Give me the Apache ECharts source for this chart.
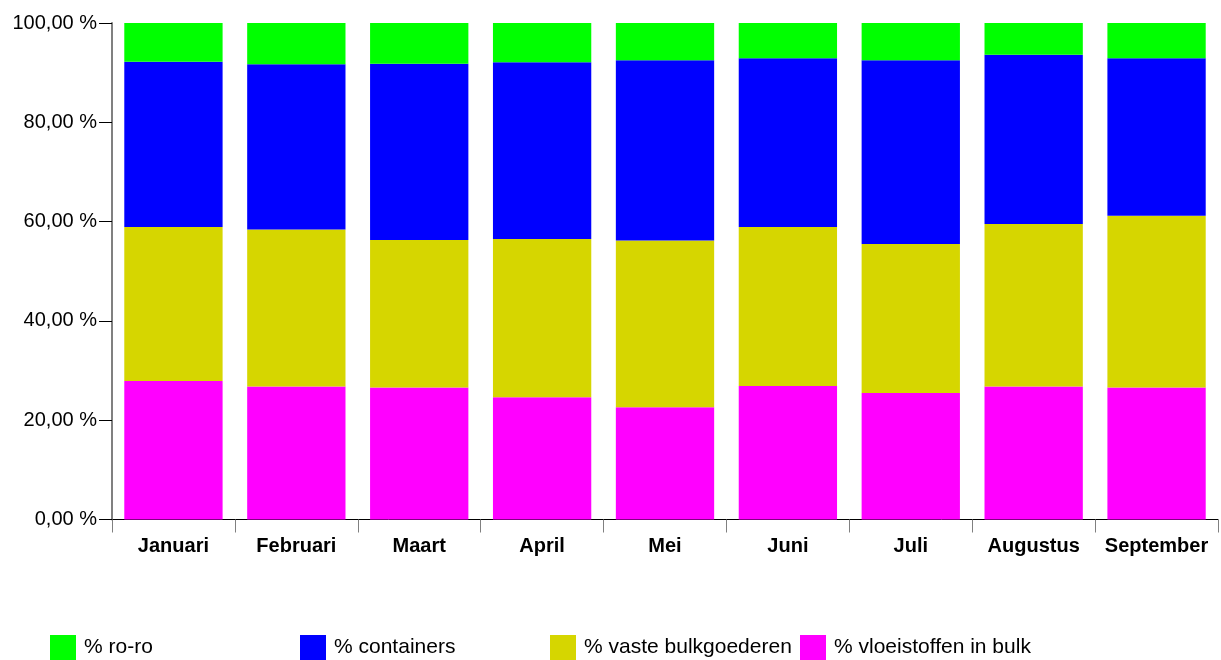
<!DOCTYPE html>
<html>
<head>
<meta charset="utf-8">
<script src="https://cdn.jsdelivr.net/npm/echarts@6/dist/echarts.min.js"></script>
<style>
html,body{margin:0;padding:0;background:#fff;}
#chart{width:1221px;height:660px;}
</style>
</head>
<body>
<div id="chart"></div>
<script>
const categories = ['Januari','Februari','Maart','April','Mei','Juni','Juli','Augustus','September'];
const vloeistoffen = [27.9, 26.8, 26.6, 24.6, 22.6, 26.9, 25.5, 26.8, 26.6];
const vasteBulk = [31.0, 31.6, 29.7, 31.9, 33.6, 32.0, 30.0, 32.7, 34.6];
const containers = [33.3, 33.3, 35.5, 35.6, 36.3, 34.0, 37.0, 34.1, 31.7];
const roro = [7.8, 8.3, 8.2, 7.9, 7.5, 7.1, 7.5, 6.4, 7.1];
const yTicks = [0, 20, 40, 60, 80, 100];

const names = ['% ro-ro', '% containers', '% vaste bulkgoederen', '% vloeistoffen in bulk'];
const colors = {'% ro-ro':'#00ff00','% containers':'#0000ff','% vaste bulkgoederen':'#d6d600','% vloeistoffen in bulk':'#ff00ff'};
const font = 'Liberation Sans, Arial, sans-serif';

const chart = echarts.init(document.getElementById('chart'), null, {renderer:'canvas'});
const legendLefts = [50, 300, 550, 800];
const mk = (name, data) => ({
  name, type:'bar', stack:'total', data,
  barCategoryGap:'20%',
  itemStyle:{color:colors[name]},
  emphasis:{disabled:true}
});
chart.setOption({
  animation:false,
  backgroundColor:'#fff',
  textStyle:{fontFamily:font},
  grid:{left:112, right:3, top:23, bottom:140.5, containLabel:false},
  legend: names.map((n,i)=>({
    data:[n], left:legendLefts[i], top:635, orient:'horizontal', padding:0,
    itemWidth:26, itemHeight:25, icon:'rect', itemGap:0,
    textStyle:{fontSize:21, color:'#000', fontFamily:font, padding:[0,0,0,3]},
    selectedMode:false
  })),
  xAxis:{
    type:'category', data:categories,
    axisLine:{lineStyle:{color:'#000', width:1}},
    axisTick:{show:true, length:13, lineStyle:{color:'#808080'}, alignWithLabel:false},
    axisLabel:{fontSize:20, fontWeight:'bold', color:'#000', margin:17, fontFamily:font, interval:0}
  },
  yAxis:{
    type:'value', min:yTicks[0], max:yTicks[yTicks.length-1], interval:20,
    axisLine:{show:true, lineStyle:{color:'#808080', width:2}},
    axisTick:{show:true, length:13, lineStyle:{color:'#000'}},
    splitLine:{show:false},
    axisLabel:{fontSize:20, color:'#000', margin:15, fontFamily:font,
      formatter:v=>v.toFixed(2).replace('.', ',') + ' %'}
  },
  series:[
    mk('% vloeistoffen in bulk', vloeistoffen),
    mk('% vaste bulkgoederen', vasteBulk),
    mk('% containers', containers),
    mk('% ro-ro', roro)
  ]
});
</script>
</body>
</html>
